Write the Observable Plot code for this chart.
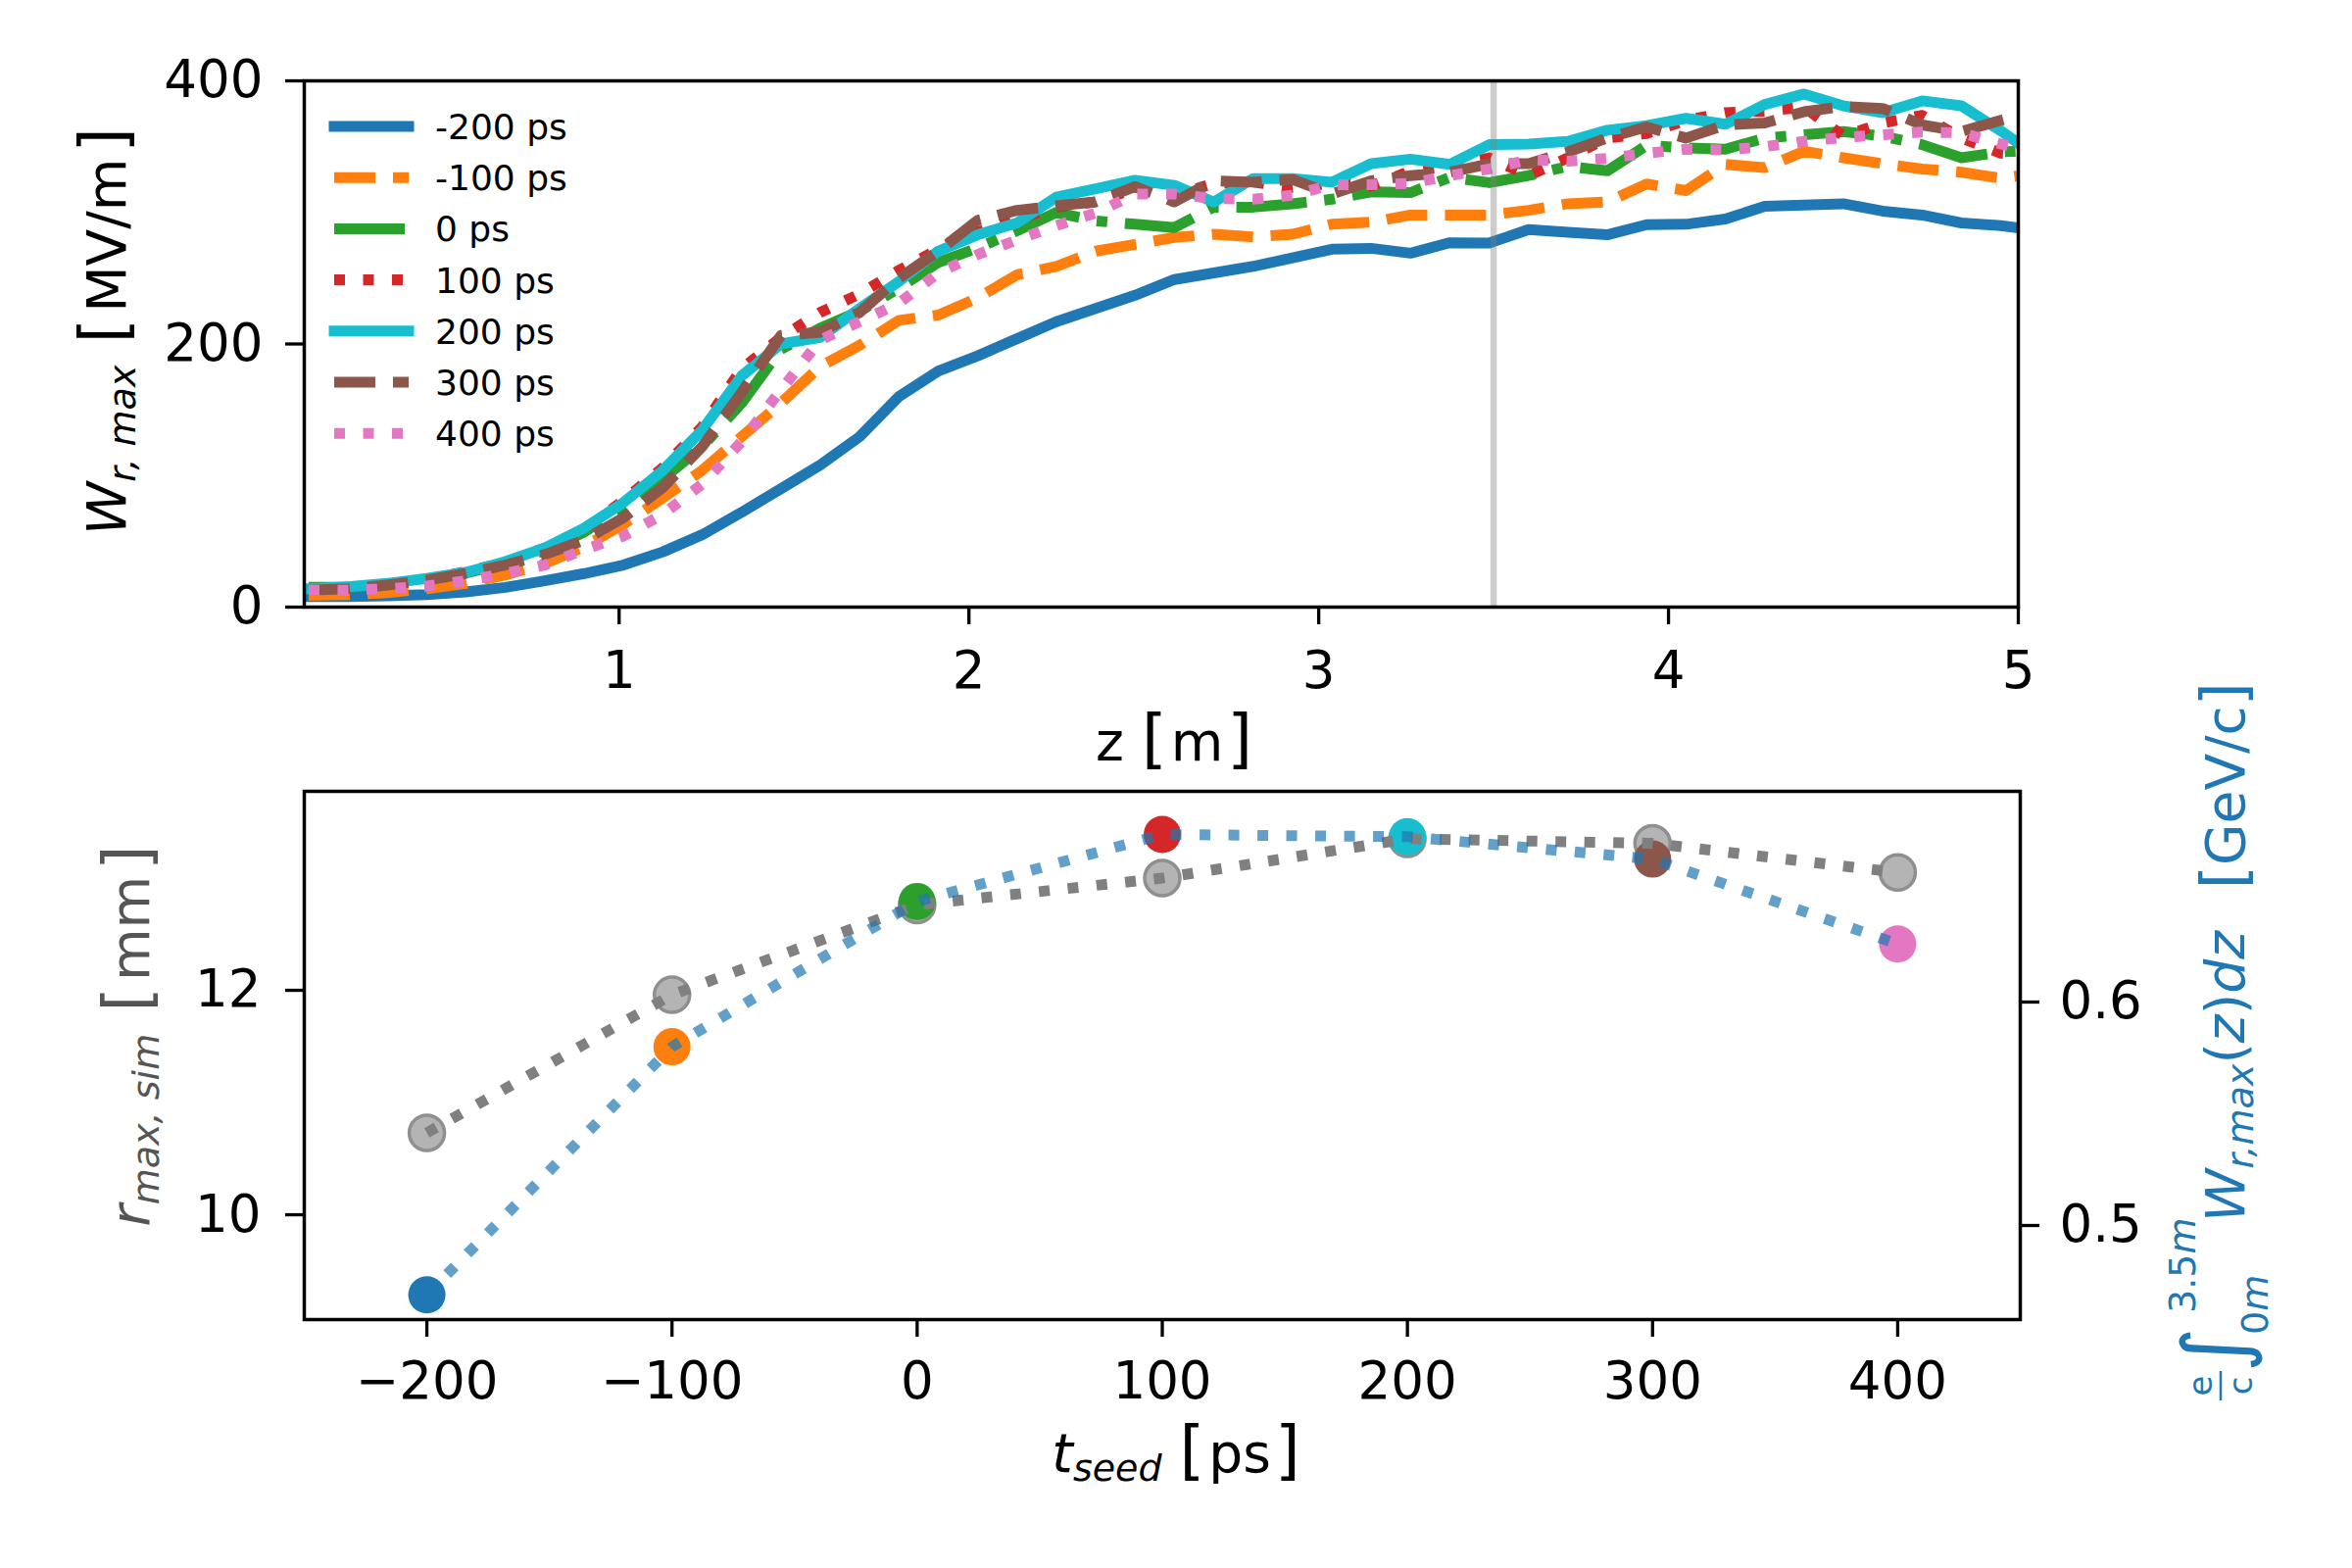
<!DOCTYPE html>
<html><head><meta charset="utf-8">
<script src="https://cdn.jsdelivr.net/npm/d3@7"></script>
<script src="https://cdn.jsdelivr.net/npm/@observablehq/plot@0.6"></script>
<style>
html,body{margin:0;padding:0;background:#fff;}
#root{position:relative;width:2400px;height:1600px;font-family:"DejaVu Sans";background:#fff;overflow:hidden;}
#top,#bottom{position:absolute;left:0;}
#top{top:0px;}
#bottom{top:700px;}
svg{overflow:visible;}
</style></head>
<body><div id="root"><div id="top"></div><div id="bottom"></div></div>
<script>
// ---------- data: top panel ----------
const z = [0.1125,0.225,0.3375,0.45,0.5625,0.675,0.7875,0.9,1.0125,1.125,1.2375,1.35,1.4625,1.575,1.6875,1.8,1.9125,2.025,2.1375,2.25,2.3625,2.475,2.5875,2.7,2.8125,2.925,3.0375,3.15,3.2625,3.375,3.4875,3.6,3.7125,3.825,3.9375,4.05,4.1625,4.275,4.3875,4.5,4.6125,4.725,4.8375,4.95,5.0625];
const seedLabels = ["-200 ps","-100 ps","0 ps","100 ps","200 ps","300 ps","400 ps"];
const wM200 = [8,8,8.5,9.5,11.5,15,20,25.5,32,42,55,72,90,108,129.5,160,179.5,191,204,217,227,237,249,254,259,265.5,272,272.7,269,277,276.7,287,285,283,290.7,291,295,304.6,305.6,306.6,301,298,292,290,286];
const wM100 = [9,9.5,11,14,18,24.4,33,46,63,83,104,129.5,155,183,199,218,222,235,252.6,259,270.6,275.7,281,283.4,281.4,283.4,291,292.6,298,298,298,301.6,306.6,308,321.6,316.6,336.5,334,346.5,341.5,337,333,330.5,326,330];
const w0 = [15,15,17,21,26,33,43,57,77,97.5,122,155,196,212,225,242.5,262,273,286,300,293.6,291,288.5,304,304,306.5,310,315.6,315,326.6,322.6,328,335,331.6,351,349,348,356.5,359,361.5,358,351.5,341.5,346,347];
const w100 = [14,15,17,21,27,34,45,59,81,106,137,181,205,224,238,256,272,285,295,304,308,318,313,322,323,319,322,320,331.6,335,341.5,328,341.5,356.5,360,370,375.8,377,380,358,368,373.8,356.5,345,343];
const w200 = [14,15.4,18,21.8,26.4,34.6,45,60,79.5,104,134.6,175.7,200,205,227,247.5,270.6,283,292,311.6,318,324.4,320.6,307.8,325.7,325.7,323,337,340.5,336.5,351.5,352,354,362.5,366,371.5,367,382,390,381,375.8,384.8,381,362,341];
const w300 = [12.8,14,16.7,20.5,25.6,32,40,51,68,91,122,163,206.5,209,224,250,270.6,294,301.6,305,308,319.6,308,324,323,325,314,324,328,330.5,337,337,346,356.5,365,356.5,366.5,368,376.5,380.5,379,366.5,361.5,370,378];
const w400 = [12.8,12.8,14,16,20,25.6,32,43.6,54,70.5,93.6,125.7,165,203,217,231,254,268,279,290,299.5,314,314,310.5,310,313,321,321,322,328,333,340,339,341,345,348,347.5,350,354,357,359,361,360.5,352,346];
const zMarker = 3.5;
const zTicks = [1,2,3,4,5];
const wTicks = [0,200,400];

// ---------- data: bottom panel ----------
const tSeed = [-200,-100,0,100,200,300,400];
const rMaxSim = [10.73,11.96,12.76,13.0,13.35,13.31,13.05];
const wIntegral = [0.469,0.580,0.645,0.675,0.674,0.664,0.626];
const tTicks = [-200,-100,0,100,200,300,400];
const rTicks = [10,12];
const gevTicks = [0.5,0.6];

// ---------- styles ----------
const colors = ["#1f77b4","#ff7f0e","#2ca02c","#d62728","#17becf","#8c564b","#e377c2"];
const dashes = [null,"42 18","72 18 11 18","11 18.5",null,"42 18","11 18.5"];
const seriesValues = [wM200,wM100,w0,w100,w200,w300,w400];
const LW = 11;
const FONT = "DejaVu Sans";

// ---------- top panel ----------
const series = seriesValues.map((vals,i)=>({label:seedLabels[i], color:colors[i], dash:dashes[i],
  rows: z.map((zz,j)=>({z:zz, w:vals[j]}))}));

const topSvg = Plot.plot({
  width:2400, height:800,
  marginLeft:310, marginRight:341, marginTop:82, marginBottom:181,
  style:{fontFamily:FONT, fontSize:"53px", color:"black", background:"transparent", overflow:"visible"},
  x:{domain:[0.1,5]},
  y:{domain:[0,400]},
  marks:[
    ...series.map(s=>Plot.line(s.rows,{x:"z",y:"w",stroke:s.color,strokeWidth:LW,
        strokeDasharray:s.dash||undefined,strokeLinecap:s.dash?"butt":"square",strokeLinejoin:"round",clip:true})),
    Plot.ruleX([zMarker],{stroke:"#808080",strokeOpacity:0.4,strokeWidth:6.5}),
    Plot.frame({stroke:"black",strokeWidth:3.5}),
    Plot.axisX({ticks:zTicks,tickSize:18,tickPadding:27,strokeWidth:3.3,label:null,tickFormat:d=>String(d)}),
    Plot.axisY({ticks:wTicks,tickSize:19,tickPadding:23,strokeWidth:3.3,label:null,tickFormat:d=>String(d)})
  ]
});
document.getElementById("top").appendChild(topSvg);
const st = d3.select(topSvg);

// legend
const lg = st.append("g").attr("font-family",FONT).attr("text-anchor","start");
series.forEach((s,i)=>{
  const y = 129 + i*52.2;
  lg.append("line").attr("x1",341).attr("x2",417).attr("y1",y).attr("y2",y)
    .attr("stroke",s.color).attr("stroke-width",LW)
    .attr("stroke-dasharray",s.dash||null).attr("stroke-linecap",s.dash?"butt":"square");
  lg.append("text").attr("x",444).attr("y",y).attr("dy","0.36em").attr("font-size",36)
    .attr("text-anchor","start").attr("fill","black").text(s.label);
});

// top y label
{
  const t = st.append("text").attr("transform","translate(128,338) rotate(-90)")
    .attr("text-anchor","middle").attr("font-size",55).attr("font-family",FONT).attr("fill","black");
  t.append("tspan").attr("font-style","italic").text("W");
  t.append("tspan").attr("font-style","italic").attr("font-size",38).attr("dy",10).text("r, max");
  t.append("tspan").attr("dy",-10).attr("dx",22).attr("font-size",66).text("[");
  t.append("tspan").attr("dx",6).text("MV/m");
  t.append("tspan").attr("dx",6).attr("font-size",66).text("]");
}
// top x label
{
  const t = st.append("text").attr("x",1198).attr("y",776).attr("text-anchor","middle")
    .attr("font-size",55).attr("font-family",FONT).attr("fill","black");
  t.append("tspan").text("z");
  t.append("tspan").attr("dx",18).attr("font-size",66).text("[");
  t.append("tspan").attr("dx",4).text("m");
  t.append("tspan").attr("dx",4).attr("font-size",66).text("]");
}

// ---------- bottom panel ----------
const leftDom = [9.066,13.773];
const rightDom = [0.4579,0.6943];
const toLeft = v => leftDom[0] + (v-rightDom[0])*(leftDom[1]-leftDom[0])/(rightDom[1]-rightDom[0]);
const toRight = r => rightDom[0] + (r-leftDom[0])*(rightDom[1]-rightDom[0])/(leftDom[1]-leftDom[0]);
const rows = tSeed.map((t,i)=>({t, r:rMaxSim[i], e:toLeft(wIntegral[i]), c:colors[i]}));
const minus = d => d<0 ? "\u2212"+Math.abs(d) : String(d);

const botSvg = Plot.plot({
  width:2400, height:900,
  marginLeft:310, marginRight:339, marginTop:107, marginBottom:254,
  style:{fontFamily:FONT, fontSize:"53px", color:"black", background:"transparent", overflow:"visible"},
  x:{domain:[-250,450]},
  y:{domain:leftDom},
  color:{type:"identity"},
  marks:[
    Plot.dot(rows,{x:"t",y:"r",r:18,fill:"#b4b4b4",stroke:"#8f8f8f",strokeWidth:3.5}),
    Plot.dot(rows,{x:"t",y:"e",r:19,fill:"c",stroke:"none"}),
    Plot.line(rows,{x:"t",y:"r",stroke:"#808080",strokeWidth:LW,strokeDasharray:"11 18.5",strokeLinecap:"butt"}),
    Plot.line(rows,{x:"t",y:"e",stroke:"#1f77b4",strokeOpacity:0.7,strokeWidth:LW,strokeDasharray:"11 18.5",strokeLinecap:"butt"}),
    Plot.frame({stroke:"black",strokeWidth:3.5}),
    Plot.axisX({ticks:tTicks,tickSize:18,tickPadding:25,strokeWidth:3.3,label:null,tickFormat:minus}),
    Plot.axisY({ticks:rTicks,tickSize:19,tickPadding:25,strokeWidth:3.3,label:null,tickFormat:d=>String(d)}),
    Plot.axisY({anchor:"right",ticks:gevTicks.map(toLeft),tickSize:19,tickPadding:21,strokeWidth:3.3,label:null,
      tickFormat:d=>toRight(d).toFixed(1)})
  ]
});
document.getElementById("bottom").appendChild(botSvg);
const sb = d3.select(botSvg);

// bottom x label
{
  const t = sb.append("text").attr("x",1200).attr("y",802).attr("text-anchor","middle")
    .attr("font-size",55).attr("font-family",FONT).attr("fill","black");
  t.append("tspan").attr("font-style","italic").text("t");
  t.append("tspan").attr("font-style","italic").attr("font-size",38).attr("dy",9).text("seed");
  t.append("tspan").attr("dy",-9).attr("dx",18).attr("font-size",66).text("[");
  t.append("tspan").attr("dx",4).text("ps");
  t.append("tspan").attr("dx",4).attr("font-size",66).text("]");
}
// bottom left y label
{
  const t = sb.append("text").attr("transform","translate(152,357) rotate(-90)")
    .attr("text-anchor","middle").attr("font-size",55).attr("font-family",FONT).attr("fill","#555555");
  t.append("tspan").attr("font-style","italic").text("r");
  t.append("tspan").attr("font-style","italic").attr("font-size",38).attr("dy",10).text("max, sim");
  t.append("tspan").attr("dy",-10).attr("dx",22).attr("font-size",66).text("[");
  t.append("tspan").attr("dx",6).text("mm");
  t.append("tspan").attr("dx",6).attr("font-size",66).text("]");
}
// bottom right y label
{
  const blue = "#1f77b4";
  const g = sb.append("g").attr("transform","translate(2290,368) rotate(-90)")
    .attr("font-family",FONT).attr("fill",blue).attr("text-anchor","start");
  g.append("text").attr("x",-346).attr("y",-33).attr("text-anchor","middle").attr("font-size",34).text("e");
  g.append("line").attr("x1",-361).attr("x2",-331).attr("y1",-24).attr("y2",-24).attr("stroke",blue).attr("stroke-width",2.5);
  g.append("text").attr("x",-346).attr("y",8).attr("text-anchor","middle").attr("font-size",34).text("c");
  g.append("text").attr("x",-332).attr("y",0).attr("text-anchor","start").attr("font-size",88).text("\u222B");
  const up = g.append("text").attr("x",-272).attr("y",-50).attr("text-anchor","start").attr("font-size",38);
  up.append("tspan").text("3.5"); up.append("tspan").attr("font-style","italic").text("m");
  const lo = g.append("text").attr("x",-294).attr("y",24).attr("text-anchor","start").attr("font-size",38);
  lo.append("tspan").text("0"); lo.append("tspan").attr("font-style","italic").text("m");
  const m = g.append("text").attr("x",-179).attr("y",0).attr("text-anchor","start").attr("font-size",55);
  m.append("tspan").attr("font-style","italic").text("W");
  m.append("tspan").attr("font-style","italic").attr("font-size",38).attr("dy",9).text("r,max");
  m.append("tspan").attr("dy",-9).text("(");
  m.append("tspan").attr("font-style","italic").text("z");
  m.append("tspan").text(")");
  m.append("tspan").attr("font-style","italic").text("dz");
  const u = g.append("text").attr("x",372).attr("y",0).attr("text-anchor","end").attr("font-size",55);
  u.append("tspan").attr("font-size",62).text("[");
  u.append("tspan").text("GeV/c");
  u.append("tspan").attr("font-size",62).text("]");
}
</script>
</body></html>
